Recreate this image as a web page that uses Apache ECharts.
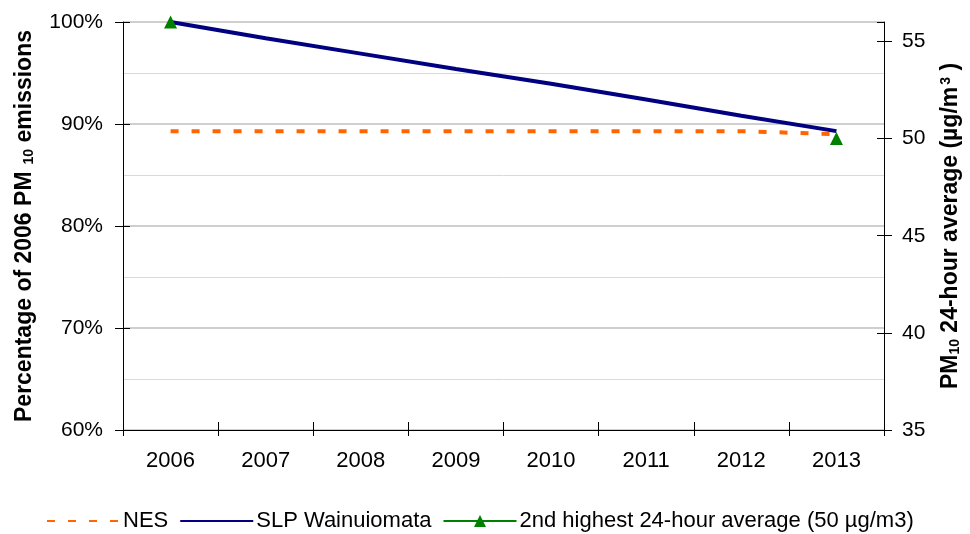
<!DOCTYPE html>
<html>
<head>
<meta charset="utf-8">
<script src="https://cdn.jsdelivr.net/npm/echarts@6/dist/echarts.min.js"></script>
<style>
html,body{margin:0;padding:0;background:#fff;}
#chart{width:970px;height:534px;}
</style>
</head>
<body>
<div id="chart"></div>
<script>
var years = ['2006','2007','2008','2009','2010','2011','2012','2013'];
var nesValues = [89.3, 89.3, 89.3, 89.3, 89.3, 89.3, 89.3, 89.0];
var slpValues = [100, 98.4, 96.9, 95.4, 93.95, 92.4, 90.8, 89.3];
var secondHighest = [56, null, null, null, null, null, null, 50];

var FONT = '"Liberation Sans", Arial, sans-serif';
var chart = echarts.init(document.getElementById('chart'), null, {renderer: 'canvas'});

function tickOnly(extra) {
  return Object.assign({
    type: 'value',
    axisLine: {show: false},
    axisTick: {show: true, inside: true, length: 7, lineStyle: {color: '#000'}},
    axisLabel: {show: false},
    splitLine: {show: false}
  }, extra);
}

chart.setOption({
  animation: false,
  backgroundColor: '#fff',
  textStyle: {fontFamily: FONT, color: '#000'},
  grid: {left: 123, right: 83, top: 22, bottom: 104, containLabel: false},
  legend: {
    top: 505,
    left: 41,
    itemWidth: 73,
    itemHeight: 15,
    itemGap: 11,
    textStyle: {fontFamily: FONT, fontSize: 22, color: '#000', padding: [0,0,0,-2]},
    data: ['NES', 'SLP Wainuiomata', '2nd highest 24-hour average (50 µg/m3)']
  },
  xAxis: [{
    type: 'category',
    data: years,
    boundaryGap: true,
    axisLine: {lineStyle: {color: '#000', width: 1}},
    axisTick: {show: true, interval: 0, length: 6, lineStyle: {color: '#000'}},
    axisLabel: {fontFamily: FONT, fontSize: 22, color: '#000', margin: 20, interval: 0},
    splitLine: {show: false}
  }, {
    type: 'category',
    data: years,
    position: 'bottom',
    boundaryGap: true,
    axisLine: {show: false},
    axisTick: {show: true, inside: true, interval: 0, length: 8, lineStyle: {color: '#000'}},
    axisLabel: {show: false},
    splitLine: {show: false}
  }],
  yAxis: [{
    type: 'value',
    min: 60, max: 100, interval: 10,
    position: 'left',
    name: 'Percentage of 2006 PM{sub|10} emissions',
    nameLocation: 'middle',
    nameRotate: 90,
    nameGap: 87,
    nameTextStyle: {
      fontFamily: FONT, fontSize: 23, fontWeight: 'bold', color: '#000',
      rich: {sub: {fontFamily: FONT, fontSize: 14, fontWeight: 'bold', padding: [9,0,0,7]}}
    },
    axisLine: {show: true, lineStyle: {color: '#000', width: 1}},
    axisTick: {show: true, length: 8, lineStyle: {color: '#000'}},
    axisLabel: {fontFamily: FONT, fontSize: 21, color: '#000', margin: 20, formatter: '{value}%'},
    splitLine: {show: true, lineStyle: {color: '#bfbfbf', width: 1.5}},
    minorTick: {show: false, splitNumber: 2},
    minorSplitLine: {show: true, lineStyle: {color: '#d9d9d9', width: 1}}
  }, {
    type: 'value',
    min: 35, max: 56, interval: 5,
    position: 'right',
    name: 'PM{sub|10} 24-hour average (µg/m{sup|3} )',
    nameLocation: 'middle',
    nameRotate: 90,
    nameGap: 55,
    nameTextStyle: {
      fontFamily: FONT, fontSize: 23, fontWeight: 'bold', color: '#000',
      rich: {
        sub: {fontFamily: FONT, fontSize: 14, fontWeight: 'bold', padding: [9,0,0,0]},
        sup: {fontFamily: FONT, fontSize: 14, fontWeight: 'bold', padding: [0,0,9,2]}
      }
    },
    axisLine: {show: true, lineStyle: {color: '#000', width: 1}},
    axisTick: {show: true, length: 8, lineStyle: {color: '#000'}},
    axisLabel: {fontFamily: FONT, fontSize: 21, color: '#000', margin: 18},
    splitLine: {show: false}
  },
  tickOnly({min: 60, max: 100, interval: 10, position: 'left'}),
  tickOnly({min: 35, max: 56, interval: 5, position: 'right'})
  ],
  series: [{
    name: 'NES',
    type: 'line',
    yAxisIndex: 0,
    data: nesValues,
    symbol: 'none',
    lineStyle: {color: '#ff6600', width: 4, type: [8, 13]},
    itemStyle: {color: '#ff6600', opacity: 0},
    z: 2
  }, {
    name: 'SLP Wainuiomata',
    type: 'line',
    yAxisIndex: 0,
    data: slpValues,
    symbol: 'none',
    lineStyle: {color: '#000080', width: 4},
    itemStyle: {color: '#000080', opacity: 0},
    z: 3
  }, {
    name: '2nd highest 24-hour average (50 µg/m3)',
    type: 'line',
    yAxisIndex: 1,
    data: secondHighest,
    connectNulls: false,
    symbol: 'triangle',
    symbolSize: 13,
    showAllSymbol: true,
    lineStyle: {color: '#008000', width: 1.5},
    itemStyle: {color: '#008000'},
    z: 4
  }]
});
</script>
</body>
</html>
